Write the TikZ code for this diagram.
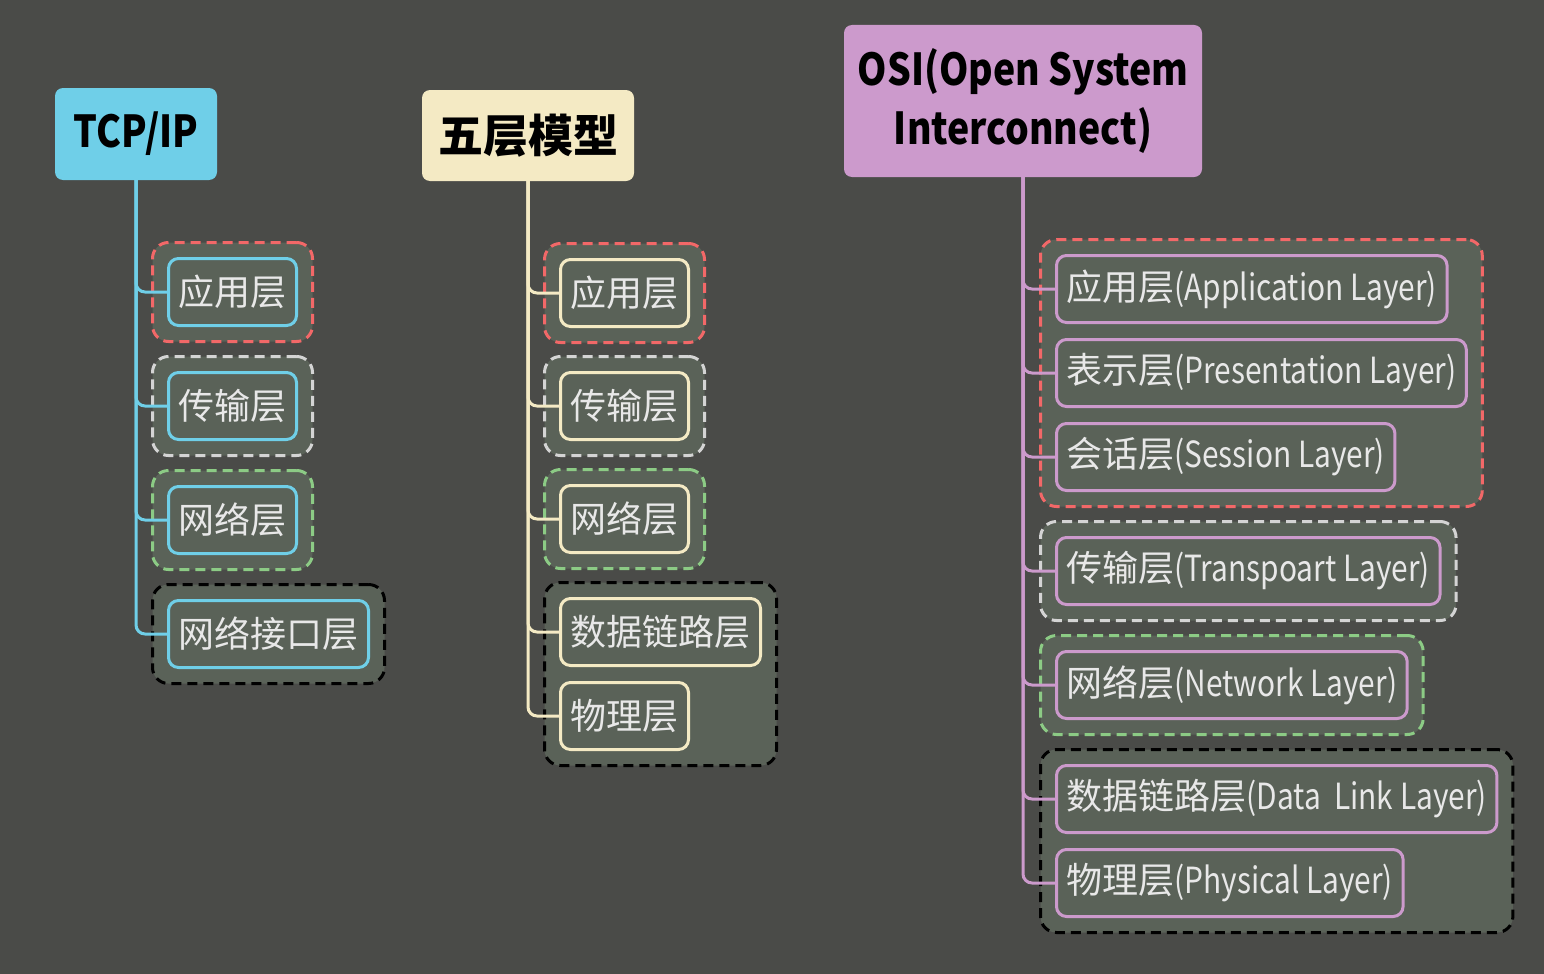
\documentclass[tikz,border=0pt]{standalone}
\usepackage{fontspec}
\setmainfont{Noto Sans CJK SC}
\newfontfamily\cjk{Noto Sans CJK SC}
\newfontfamily\latn[FakeStretch=0.83]{Noto Sans CJK SC}
\newfontfamily\headfont[FakeStretch=0.85]{Noto Sans CJK SC}
\usepackage{tikz}
\usetikzlibrary{positioning, fit, backgrounds}
\definecolor{bgdark}{HTML}{4A4B48}
\definecolor{boxfill}{HTML}{5A6258}
\definecolor{labelgray}{HTML}{E8E8E8}
\definecolor{tcpblue}{HTML}{6FCFE8}
\definecolor{fivecream}{HTML}{F4EAC4}
\definecolor{osipurple}{HTML}{CC9ACC}
\definecolor{grpred}{HTML}{F26868}
\definecolor{grpgray}{HTML}{D4D4D4}
\definecolor{grpgreen}{HTML}{8CCB85}
\tikzstyle{link} = [line width=3pt, rounded corners=9pt]

\begin{document}
\begin{tikzpicture}[x=1pt, y=-1pt,
    head/.style={rectangle, rounded corners=8pt, text=black, align=center, inner sep=0pt},
    layer/.style={rectangle, rounded corners=10pt, line width=3pt, minimum height=67pt,
      inner xsep=10pt, outer sep=0pt, fill=boxfill, text=labelgray, anchor=north west,
      font=\cjk\fontsize{36}{40}\selectfont},
    grp/.style={rectangle, rounded corners=16pt, line width=3pt, dash pattern=on 10pt off 6pt,
      fill=boxfill, inner sep=16pt}
  ]
    \useasboundingbox (0,0) rectangle (1544,974);

    % headers
    \node[head, fill=tcpblue, minimum width=162pt, minimum height=92pt,
      font=\headfont\bfseries\fontsize{44}{59}\selectfont] (tcp) at (136,134) {TCP/IP};
    \node[head, fill=fivecream, minimum width=212pt, minimum height=91pt,
      font=\cjk\bfseries\fontsize{45}{50}\selectfont] (five) at (528,135.5) {五层模型};
    \node[head, fill=osipurple, minimum width=358pt, minimum height=152pt,
      font=\headfont\bfseries\fontsize{44}{59}\selectfont] (osi) at (1023,101) {OSI(Open System\\Interconnect)};

    % TCP/IP
    \node[layer, draw=tcpblue] (tapp) at (168.5,258.5) {应用层};
    \node[layer, draw=tcpblue, below=47pt of tapp.south west, anchor=north west] (ttrans) {传输层};
    \node[layer, draw=tcpblue, below=47pt of ttrans.south west, anchor=north west] (tnet) {网络层};
    \node[layer, draw=tcpblue, below=47pt of tnet.south west, anchor=north west] (tif) {网络接口层};

    % five layers
    \node[layer, draw=fivecream] (fapp) at (560.5,259.5) {应用层};
    \node[layer, draw=fivecream, below=46pt of fapp.south west, anchor=north west] (ftrans) {传输层};
    \node[layer, draw=fivecream, below=46pt of ftrans.south west, anchor=north west] (fnet) {网络层};
    \node[layer, draw=fivecream, below=46pt of fnet.south west, anchor=north west] (flink) {数据链路层};
    \node[layer, draw=fivecream, below=17pt of flink.south west, anchor=north west] (fphy) {物理层};

    % OSI
    \node[layer, draw=osipurple] (oapp) at (1056.5,255.5) {应用层{\latn(Application Layer)}};
    \node[layer, draw=osipurple, below=17pt of oapp.south west, anchor=north west] (opres) {表示层{\latn(Presentation Layer)}};
    \node[layer, draw=osipurple, below=17pt of opres.south west, anchor=north west] (oses) {会话层{\latn(Session Layer)}};
    \node[layer, draw=osipurple, below=47pt of oses.south west, anchor=north west] (otrans) {传输层{\latn(Transpoart Layer)}};
    \node[layer, draw=osipurple, below=47pt of otrans.south west, anchor=north west] (onet) {网络层{\latn(Network Layer)}};
    \node[layer, draw=osipurple, below=47pt of onet.south west, anchor=north west] (olink) {数据链路层{\latn(Data\ \ Link Layer)}};
    \node[layer, draw=osipurple, below=17pt of olink.south west, anchor=north west] (ophy) {物理层{\latn(Physical Layer)}};

    % dashed groups
    \begin{scope}[on background layer]
      \fill[bgdark] (0,0) rectangle (1544,974);
      \node[grp, draw=grpred, fit=(tapp)] {};
      \node[grp, draw=grpgray, fit=(ttrans)] {};
      \node[grp, draw=grpgreen, fit=(tnet)] {};
      \node[grp, draw=black, fit=(tif)] {};
      \node[grp, draw=grpred, fit=(fapp)] {};
      \node[grp, draw=grpgray, fit=(ftrans)] {};
      \node[grp, draw=grpgreen, fit=(fnet)] {};
      \node[grp, draw=black, fit=(flink) (fphy)] {};
      \node[grp, draw=grpred, fit=(oapp) (opres) (oses)] {};
      \node[grp, draw=grpgray, fit=(otrans)] {};
      \node[grp, draw=grpgreen, fit=(onet)] {};
      \node[grp, draw=black, fit=(olink) (ophy)] {};
    \end{scope}

    % connectors
    \foreach \n in {tapp, ttrans, tnet, tif}
      \draw[link, tcpblue] (tcp.south) |- (\n.west);
    \foreach \n in {fapp, ftrans, fnet, flink, fphy}
      \draw[link, fivecream] (five.south) |- (\n.west);
    \foreach \n in {oapp, opres, oses, otrans, onet, olink, ophy}
      \draw[link, osipurple] (osi.south) |- (\n.west);
  \end{tikzpicture}
\end{document}
